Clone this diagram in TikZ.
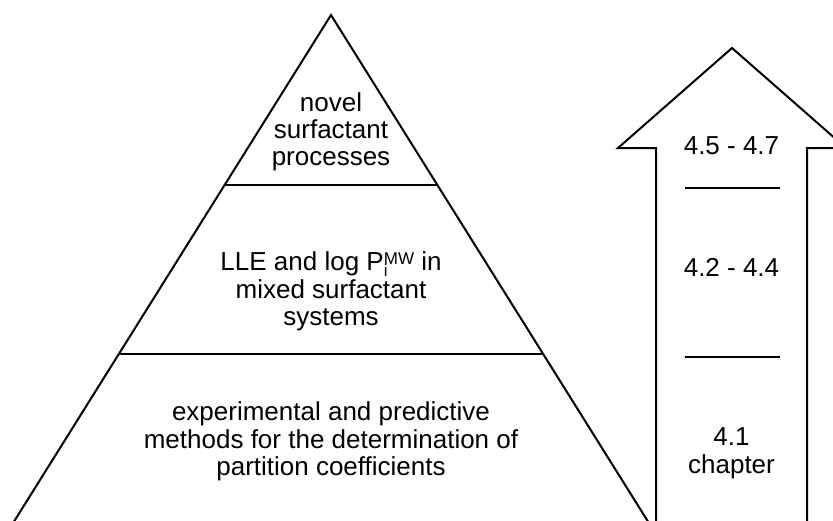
\documentclass[tikz,border=0pt]{standalone}
\usepackage{fontspec}
\setmainfont{Liberation Sans}
\newcommand{\smallsz}{\fontsize{17}{17}\selectfont}
\begin{document}
\begin{tikzpicture}[x=1pt,y=-1pt,line width=2pt,
  txt/.style={font=\fontsize{26}{27}\selectfont, inner sep=0pt, anchor=base},
  outline/.style={line width=2pt, line join=miter},
  divider/.style={line width=2.6pt}]
\useasboundingbox (0,0) rectangle (833,520);
\clip (0,0) rectangle (833,520);
% pyramid
\coordinate (apex) at (331,15);
\coordinate (pl) at (8.7,530);
\coordinate (pr) at (653.3,530);
\draw[outline] (pl) -- (apex) -- (pr);
\coordinate (d1l) at (224.6,185);
\coordinate (d1r) at (437.4,185);
\coordinate (d2l) at (119,354);
\coordinate (d2r) at (543,354);
\draw[divider] (d1l) -- (d1r);
\draw[divider] (d2l) -- (d2r);
% arrow
\coordinate (sl) at (656,530);
\coordinate (slt) at (656,148);
\coordinate (hl) at (618,148);
\coordinate (tip) at (732,48);
\coordinate (hr) at (846,148);
\coordinate (srt) at (807,148);
\coordinate (sr) at (807,530);
\draw[outline] (sl) -- (slt) -- (hl) -- (tip) -- (hr) -- (srt) -- (sr);
\coordinate (a1l) at (685,188);
\coordinate (a1r) at (780,188);
\coordinate (a2l) at (685,357);
\coordinate (a2r) at (780,357);
\draw[divider] (a1l) -- (a1r);
\draw[divider] (a2l) -- (a2r);
% pyramid texts
\node[txt] (t1a) at (331,111.7) {novel};
\node[txt] (t1b) at (331,138.5) {surfactant};
\node[txt] (t1c) at (331,165) {processes};
\node[txt] (t2a) at (331,270) {LLE and log P\rlap{\raisebox{-6.5pt}{\smallsz i}}\raisebox{6pt}{\smallsz MW} in};
\node[txt] (t2b) at (331,298) {mixed surfactant};
\node[txt] (t2c) at (331,325) {systems};
\node[txt] (t3a) at (331,420.5) {experimental and predictive};
\node[txt] (t3b) at (331,448) {methods for the determination of};
\node[txt] (t3c) at (331,475.5) {partition coefficients};
% arrow texts
\node[txt] (c1) at (731.5,154) {4.5 - 4.7};
\node[txt] (c2) at (731.5,276) {4.2 - 4.4};
\node[txt] (c3a) at (731.5,445) {4.1};
\node[txt] (c3b) at (731.5,473) {chapter};
\end{tikzpicture}
\end{document}
